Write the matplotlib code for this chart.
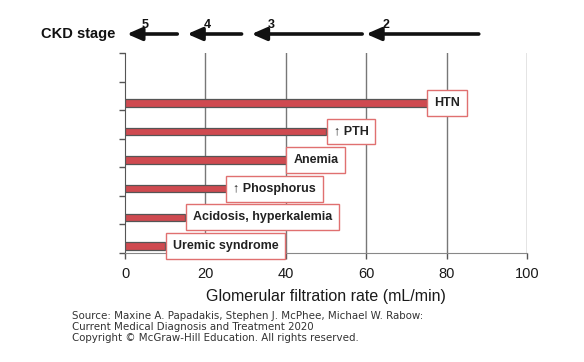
import matplotlib
matplotlib.use("Agg")
import matplotlib.pyplot as plt
import matplotlib.transforms as mtransforms

plt.rcParams['font.family'] = ['Liberation Sans', 'DejaVu Sans']

# Data
labels = ["Uremic syndrome", "Acidosis, hyperkalemia", "\u2191 Phosphorus",
          "Anemia", "\u2191 PTH", "HTN"]
gfr_onset = [10, 15, 25, 40, 50, 75]

stages = ["5", "4", "3", "2"]
stage_upper = [13, 29, 59, 88]
stage_lower = [0.5, 15.5, 31.5, 60]
stage_label_x = [5, 20.5, 36.5, 65]

xticks = [0, 20, 40, 60, 80, 100]

fig = plt.figure(figsize=(5.84, 3.62), dpi=100)
ax = fig.add_axes([125/584, 1-253/362, 402/584, 200/362])

bar_pos = [i + 0.25 for i in range(len(labels))]
ax.barh(bar_pos, gfr_onset, height=0.26, left=0, color="#cf4a50",
        edgecolor="#555555", linewidth=0.9, zorder=3)

fs_box = 9
pad = 0.55
for y, v, lab in zip(bar_pos, gfr_onset, labels):
    ax.annotate(lab, xy=(v, y), xytext=(pad * fs_box + 0.5, 0),
                textcoords="offset points",
                ha="left", va="center", fontsize=fs_box, fontweight="bold",
                color="#222222", zorder=5,
                bbox=dict(boxstyle=f"square,pad={pad}", fc="white",
                          ec="#e07070", lw=1.0))

ax.set_xlim(0, 100)
ax.set_ylim(0, 7)
ax.set_xticks(xticks)
ax.set_xticklabels([str(t) for t in xticks], fontsize=10.5, color="#1a1a1a")
ax.set_yticks(range(0, 8))
ax.set_yticklabels([])
ax.tick_params(axis="both", direction="out", length=4, width=1, color="#555555")
ax.tick_params(axis="x", pad=6)

for x in xticks[1:]:
    ax.axvline(x, color="#777777", lw=1, zorder=1)

for s in ["top", "right"]:
    ax.spines[s].set_visible(False)
ax.spines["left"].set_color("#555555")
ax.spines["bottom"].set_color("#888888")

ax.set_xlabel("Glomerular filtration rate (mL/min)", fontsize=11.5,
              color="#1a1a1a", labelpad=6)

# CKD stage arrows
trans = mtransforms.blended_transform_factory(ax.transData, ax.transAxes)
arrow_y = 1.095
for st, up, lo, lx in zip(stages, stage_upper, stage_lower, stage_label_x):
    ax.annotate("", xy=(lo, arrow_y), xytext=(up, arrow_y),
                xycoords=trans, textcoords=trans, annotation_clip=False,
                arrowprops=dict(arrowstyle="-|>,head_length=0.8,head_width=0.35",
                                lw=2.6, color="#111111", shrinkA=0, shrinkB=0,
                                mutation_scale=11))
    ax.text(lx, 1.14, st, transform=trans, ha="center", va="center",
            fontsize=9, fontweight="bold", color="#111111", clip_on=False)

ax.text(-2.5, arrow_y, "CKD stage", transform=trans, ha="right", va="center",
        fontsize=10.5, fontweight="bold", color="#111111", clip_on=False)

src = ("Source: Maxine A. Papadakis, Stephen J. McPhee, Michael W. Rabow:\n"
       "Current Medical Diagnosis and Treatment 2020\n"
       "Copyright \u00a9 McGraw-Hill Education. All rights reserved.")
fig.text(72/584, 1-311/362, src, ha="left", va="top", fontsize=7.4,
         family="DejaVu Sans", color="#333333", linespacing=1.15)

fig.savefig("out.png", dpi=100)
